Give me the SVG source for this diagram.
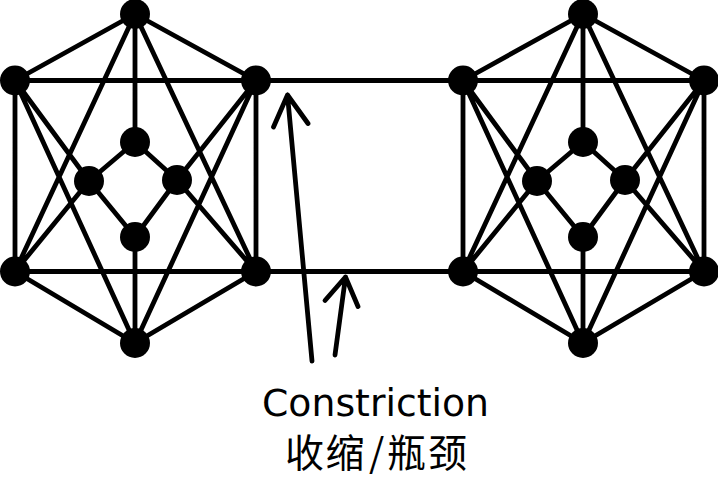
<svg xmlns="http://www.w3.org/2000/svg" width="718" height="503" viewBox="0 0 718 503">
<style>
.e{stroke:#000;stroke-width:4.8;fill:none;stroke-linecap:round}
.a{stroke:#000;stroke-width:4.8;fill:none;stroke-linecap:round;stroke-linejoin:round}
.n{fill:#000}
.t1{font-family:"DejaVu Sans","Liberation Sans",sans-serif;font-size:37px;fill:#000}
.t2{font-family:"Noto Sans CJK SC","Noto Sans",sans-serif;font-size:39px;fill:#000}
</style>
<rect width="718" height="503" fill="#fff"/>
<g id="connectors">
<!-- left cluster -->
<path class="e" d="M135,14L15,80.5M135,14L256,80.5M15,80.5L256,80.5M15,80.5L15,271.5M256,80.5L256,271.5M15,271.5L256,271.5M15,271.5L135,343M256,271.5L135,343M135,14L135,142M135,343L135,237M135,142L89,181M135,142L177,180M135,237L89,181M135,237L177,180M15,80.5L89,181M15,271.5L89,181M256,80.5L177,180M256,271.5L177,180M135,14L15,271.5M135,14L256,271.5M135,343L15,80.5M135,343L256,80.5"/>
<!-- right cluster -->
<path class="e" d="M583,14L463,80.5M583,14L704,80.5M463,80.5L704,80.5M463,80.5L463,271.5M704,80.5L704,271.5M463,271.5L704,271.5M463,271.5L583,343M704,271.5L583,343M583,14L583,142M583,343L583,237M583,142L537,181M583,142L625,180M583,237L537,181M583,237L625,180M463,80.5L537,181M463,271.5L537,181M704,80.5L625,180M704,271.5L625,180M583,14L463,271.5M583,14L704,271.5M583,343L463,80.5M583,343L704,80.5"/>
<!-- bridge -->
<path class="e" d="M256,80.5L463,80.5M256,271.5L463,271.5"/>
<!-- arrows -->
<path class="a" d="M312,361L287.5,95M273.5,127L287.5,95L308,123.5"/>
<path class="a" d="M335,355L345.5,277M325,300.5L345.5,277L358,306.5"/>
</g>
<g id="left-T"><circle class="n" cx="135" cy="14" r="15"/></g>
<g id="left-UL"><circle class="n" cx="15" cy="80.5" r="15"/></g>
<g id="left-UR"><circle class="n" cx="256" cy="80.5" r="15"/></g>
<g id="left-LL"><circle class="n" cx="15" cy="271.5" r="15"/></g>
<g id="left-LR"><circle class="n" cx="256" cy="271.5" r="15"/></g>
<g id="left-B"><circle class="n" cx="135" cy="343" r="15"/></g>
<g id="left-iT"><circle class="n" cx="135" cy="142" r="15"/></g>
<g id="left-iL"><circle class="n" cx="89" cy="181" r="15"/></g>
<g id="left-iR"><circle class="n" cx="177" cy="180" r="15"/></g>
<g id="left-iB"><circle class="n" cx="135" cy="237" r="15"/></g>
<g id="right-T"><circle class="n" cx="583" cy="14" r="15"/></g>
<g id="right-UL"><circle class="n" cx="463" cy="80.5" r="15"/></g>
<g id="right-UR"><circle class="n" cx="704" cy="80.5" r="15"/></g>
<g id="right-LL"><circle class="n" cx="463" cy="271.5" r="15"/></g>
<g id="right-LR"><circle class="n" cx="704" cy="271.5" r="15"/></g>
<g id="right-B"><circle class="n" cx="583" cy="343" r="15"/></g>
<g id="right-iT"><circle class="n" cx="583" cy="142" r="15"/></g>
<g id="right-iL"><circle class="n" cx="537" cy="181" r="15"/></g>
<g id="right-iR"><circle class="n" cx="625" cy="180" r="15"/></g>
<g id="right-iB"><circle class="n" cx="583" cy="237" r="15"/></g>
<g id="label">
<text class="t1" x="262" y="416" textLength="227" lengthAdjust="spacingAndGlyphs">Constriction</text>
<text class="t2" x="285 325.5 369 387 428" y="467">收缩/瓶颈</text>
</g>
</svg>
